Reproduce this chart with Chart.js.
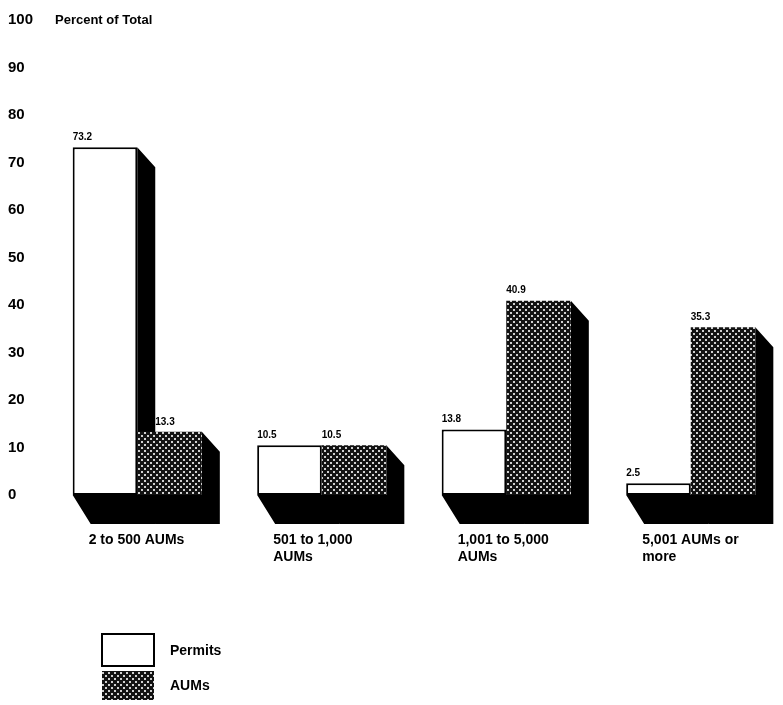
<!DOCTYPE html>
<html>
<head>
<meta charset="utf-8">
<script src="https://cdn.jsdelivr.net/npm/chart.js@4/dist/chart.umd.min.js"></script>
<style>
  body { margin: 0; background: #fff; }
  #wrap { width: 783px; height: 705px; }
</style>
</head>
<body>
<div id="wrap"><canvas id="myChart"></canvas></div>
<script>
"use strict";
let categories = [["2 to 500 AUMs"], ["501 to 1,000", "AUMs"], ["1,001 to 5,000", "AUMs"], ["5,001 AUMs or", "more"]];
let permitsArr = [73.2, 10.5, 13.8, 2.5];
let aumsArr = [13.3, 10.5, 40.9, 35.3];
let yTicks = [0, 10, 20, 30, 40, 50, 60, 70, 80, 90, 100];
let seriesNames = ["Permits", "AUMs"];

const FONT = "'Liberation Sans', Arial, sans-serif";
const DX = 18;

// dotted screen fill for AUMs
function makeDots() {
  let c = document.createElement("canvas");
  c.width = 6;
  c.height = 6;
  let g = c.getContext("2d");
  g.fillStyle = "#121212";
  g.fillRect(0, 0, 6, 6);
  g.fillStyle = "#cfcfcf";
  g.fillRect(0, 0, 2, 2);
  g.fillRect(3, 3, 2, 2);
  return g.createPattern(c, "repeat");
}
let dots = makeDots();

// black side / bottom faces behind every bar
const shadowPlugin = {
  id: "shadow3d",
  beforeDatasetsDraw(chart) {
    let ctx = chart.ctx;
    let dyTop = 20, dyBot = 29;
    ctx.save();
    ctx.fillStyle = "#000";
    chart.data.datasets.forEach((ds, di) => {
      chart.getDatasetMeta(di).data.forEach((bar) => {
        let x0 = bar.x - bar.width / 2;
        let x1 = bar.x + bar.width / 2;
        let top = bar.y, base = bar.base;
        ctx.beginPath();
        ctx.moveTo(x0, base);
        ctx.lineTo(x0 + DX, base + dyBot);
        ctx.lineTo(x1 + DX, base + dyBot);
        ctx.lineTo(x1 + DX, top + dyTop);
        ctx.lineTo(x1, top);
        ctx.lineTo(x1, base);
        ctx.closePath();
        ctx.fill();
      });
    });
    ctx.restore();
  },
  afterDatasetsDraw(chart) {
    let ctx = chart.ctx;
    ctx.save();
    ctx.fillStyle = "#000";
    // value labels
    ctx.font = "bold 10px " + FONT;
    ctx.textAlign = "left";
    ctx.textBaseline = "bottom";
    chart.data.datasets.forEach((ds, di) => {
      chart.getDatasetMeta(di).data.forEach((bar, i) => {
        let x = bar.x - bar.width / 2;
        // move clear of the taller neighbour's side face
        if (di == 1 && permitsArr[i] > aumsArr[i] + 3) x += DX;
        ctx.fillText(ds.data[i].toFixed(1), x, bar.y - 5);
      });
    });
    // category labels, left aligned under each group
    let meta = chart.getDatasetMeta(0);
    ctx.font = "bold 14px " + FONT;
    ctx.textBaseline = "top";
    categories.forEach((lines, i) => {
      let left = meta.data[i].x - meta.data[i].width / 2 + 16;
      lines.forEach((t, k) => ctx.fillText(t, left, chart.chartArea.bottom + 38 + k * 17));
    });
    // axis title
    let ys = chart.scales.y;
    ctx.font = "bold 13px " + FONT;
    ctx.textBaseline = "middle";
    ctx.fillText("Percent of Total", 55, ys.getPixelForValue(100));
    // legend
    let lx = 102, ly = [634, 671], lh = [32, 29];
    ctx.font = "bold 14px " + FONT;
    chart.data.datasets.forEach((ds, di) => {
      ctx.fillStyle = ds.backgroundColor;
      ctx.fillRect(lx, ly[di], 52, lh[di]);
      if (di == 0) {
        ctx.strokeStyle = "#000";
        ctx.lineWidth = 2;
        ctx.strokeRect(lx, ly[di], 52, lh[di]);
      }
      ctx.fillStyle = "#000";
      ctx.fillText(seriesNames[di], 170, ly[di] + lh[di] / 2 + 1);
    });
    ctx.restore();
  },
};

let ctx = document.getElementById("myChart").getContext("2d");
let myChart = new Chart(ctx, {
  type: "bar",
  data: {
    labels: categories,
    datasets: [
      {
        label: seriesNames[0],
        data: permitsArr,
        backgroundColor: "#ffffff",
        borderColor: "#000000",
        borderWidth: 2,
        borderSkipped: false,
        barPercentage: 1,
        categoryPercentage: 0.7,
      },
      {
        label: seriesNames[1],
        data: aumsArr,
        backgroundColor: dots,
        borderWidth: 0,
        barPercentage: 1,
        categoryPercentage: 0.7,
      },
    ],
  },
  options: {
    responsive: true,
    maintainAspectRatio: false,
    animation: false,
    layout: { padding: { top: 20, bottom: 202, left: 8, right: 0 } },
    plugins: { legend: { display: false }, tooltip: { enabled: false } },
    scales: {
      x: {
        grid: { display: false },
        border: { display: false },
        ticks: { display: false },
      },
      y: {
        min: 0,
        max: 100,
        afterBuildTicks(scale) {
          scale.ticks = yTicks.map((v) => ({ value: v }));
        },
        afterFit(scale) {
          scale.width = 37;
        },
        grid: { display: false },
        border: { display: false },
        ticks: {
          crossAlign: "far",
          color: "#000",
          font: { family: FONT, size: 15, weight: "bold" },
        },
      },
    },
  },
  plugins: [shadowPlugin],
});
</script>
</body>
</html>
